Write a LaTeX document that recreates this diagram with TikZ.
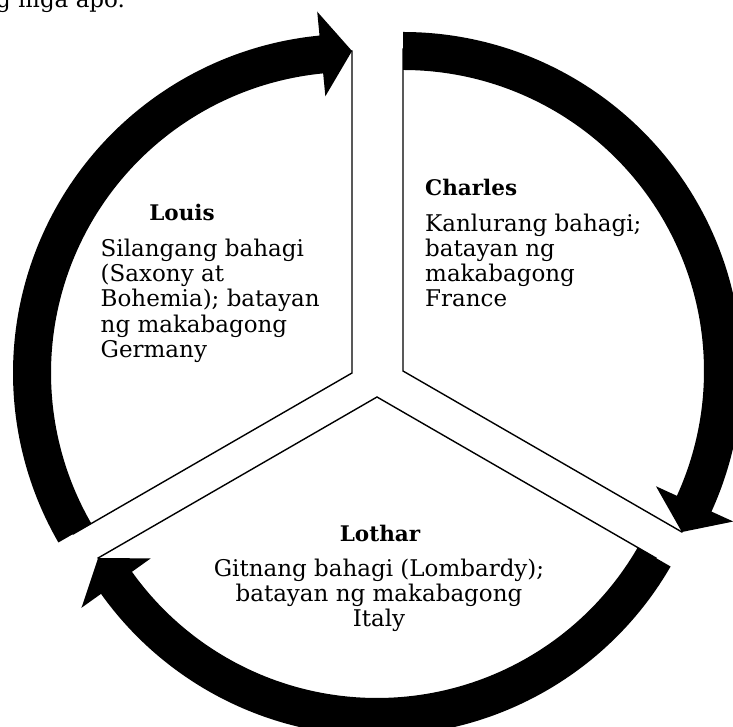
\documentclass[tikz,border=0pt]{standalone}
\usepackage{fontspec}
\setmainfont{DejaVu Serif}

\tikzset{
    sector line/.style={line width=1.4pt,black,line join=miter},
    arrow band/.style={fill=black},
    name text/.style={inner sep=0pt,font=\fontsize{21.5}{25}\selectfont\bfseries},
    info text/.style={inner sep=0pt,font=\fontsize{23}{25.2}\selectfont},
}

\begin{document}
\begin{tikzpicture}[x=1pt,y=1pt]
        \useasboundingbox (0,0) rectangle (733,727);
        \clip (0,0) rectangle (733,727);
        \node[info text,anchor=base west] (lead) at (-4,719.7) {g mga apo.};
        \coordinate (louisc) at (352,354);
        \coordinate (charlesc) at (403,356);
        \coordinate (lotharc) at (377,330);
        % Louis
        \draw[sector line] (louisc) -- ([shift={(210:322)}]louisc)
            arc[start angle=210,end angle=90,radius=322] -- cycle;
        \fill[arrow band] ([shift={(210:339)}]louisc)
            arc[start angle=210,end angle=95.5,radius=339]
            -- ([shift={(95.5:363)}]louisc)
            -- ([shift={(90:322)}]louisc)
            -- ([shift={(95.5:278)}]louisc)
            -- ([shift={(95.5:301)}]louisc)
            arc[start angle=95.5,end angle=210,radius=301] -- cycle;
        % Charles
        \draw[sector line] (charlesc) -- ([shift={(90:322)}]charlesc)
            arc[start angle=90,end angle=-30,radius=322] -- cycle;
        \fill[arrow band] ([shift={(90:339)}]charlesc)
            arc[start angle=90,end angle=-24.5,radius=339]
            -- ([shift={(-24.5:363)}]charlesc)
            -- ([shift={(-30:322)}]charlesc)
            -- ([shift={(-24.5:278)}]charlesc)
            -- ([shift={(-24.5:301)}]charlesc)
            arc[start angle=-24.5,end angle=90,radius=301] -- cycle;
        % Lothar
        \draw[sector line] (lotharc) -- ([shift={(330:322)}]lotharc)
            arc[start angle=330,end angle=210,radius=322] -- cycle;
        \fill[arrow band] ([shift={(330:339)}]lotharc)
            arc[start angle=330,end angle=215.5,radius=339]
            -- ([shift={(215.5:363)}]lotharc)
            -- ([shift={(210:322)}]lotharc)
            -- ([shift={(215.5:278)}]lotharc)
            -- ([shift={(215.5:301)}]lotharc)
            arc[start angle=215.5,end angle=330,radius=301] -- cycle;
        % texts (base = last line)
        \node[name text,anchor=base] (louis) at (182,506.3) {Louis};
        \node[info text,anchor=base west,align=left] (louisinfo) at (100.5,369.7)
            {Silangang bahagi\\(Saxony at\\Bohemia); batayan\\ng makabagong\\Germany};
        \node[name text,anchor=base west] (charles) at (425,531) {Charles};
        \node[info text,anchor=base west,align=left] (charlesinfo) at (425,420.3)
            {Kanlurang bahagi;\\batayan ng\\makabagong\\France};
        \node[name text,anchor=base] (lothar) at (380,185.3) {Lothar};
        \node[info text,anchor=base,align=center] (lotharinfo) at (379,100.3)
            {Gitnang bahagi (Lombardy);\\batayan ng makabagong\\Italy};
    \end{tikzpicture}
\end{document}
